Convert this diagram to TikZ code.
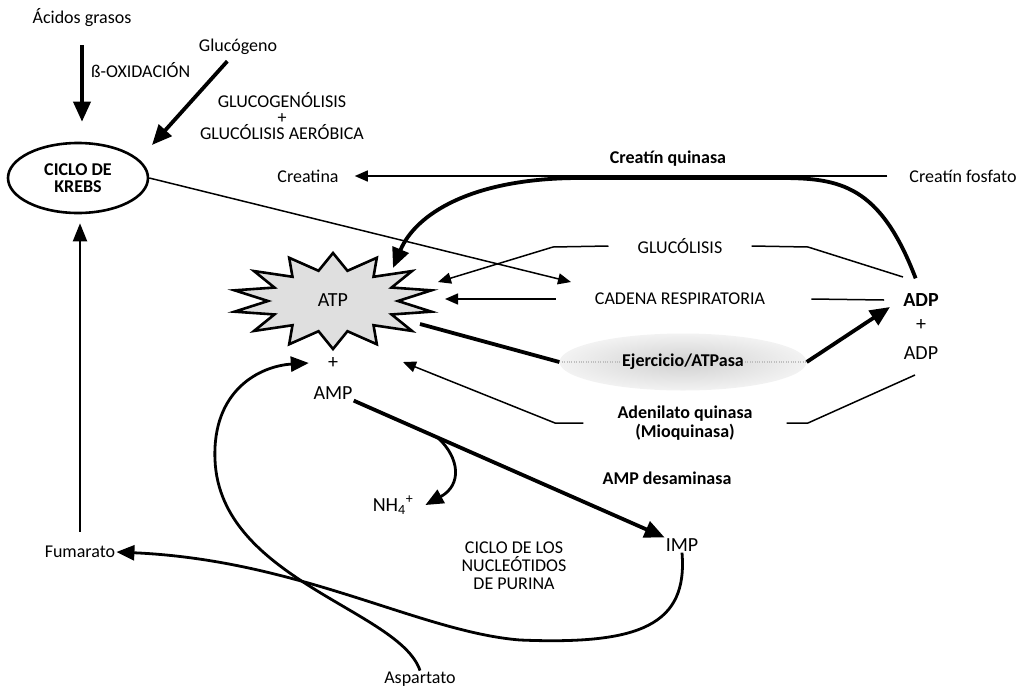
\documentclass[tikz,border=0pt]{standalone}
\usepackage{fontspec}
\setmainfont{Carlito}
\usepackage{tikz}
\usetikzlibrary{arrows.meta,shapes.geometric,positioning}

\tikzset{
  txt/.style={font=\fontsize{18}{17}\selectfont, inner sep=1pt, align=center},
  btxt/.style={txt, font=\fontsize{18}{19}\selectfont\bfseries},
  mol/.style={txt, font=\fontsize{20}{20}\selectfont},
  fineline/.style={line width=1.5pt},
  fineto/.style={fineline, -{Triangle[length=13pt,width=11pt]}},
  boldline/.style={line width=3.8pt},
  boldto/.style={boldline, -{Triangle[length=20pt,width=17pt]}},
  midto/.style={line width=2.8pt, -{Triangle[length=18pt,width=15pt]}},
  krebsbox/.style={ellipse, draw, line width=2.6pt, minimum width=140pt, minimum height=70pt,
    inner sep=0pt, align=center, font=\fontsize{18}{17}\selectfont\bfseries},
  exbox/.style={ellipse, minimum width=247pt, minimum height=57pt, inner color=gray!36, outer color=gray!10},
  starline/.style={line width=2.6pt, fill=gray!25, line join=miter},
  dotline/.style={gray!50, line width=1.2pt, dash pattern=on 0.8pt off 1.6pt},
}

\begin{document}
\begin{tikzpicture}[x=1pt,y=-1pt]
  \useasboundingbox (0,0) rectangle (1021,689);

  % sources of the Krebs cycle
  \node[txt] (acid) at (82,18) {Ácidos grasos};
  \node[txt, anchor=west] (box) at (90,70) {ß-OXIDACIÓN};
  \node[txt] (glu) at (238,47) {Glucógeno};
  \node[txt, font=\fontsize{18}{16}\selectfont] (gglyc) at (282,116) {GLUCOGENÓLISIS\\+\\GLUCÓLISIS AERÓBICA};
  \node[krebsbox] (krebs) at (78,178) {CICLO DE\\KREBS};

  % creatine
  \node[txt] (cr) at (308,176) {Creatina};
  \node[txt] (crp) at (963,176) {Creatín fosfato};
  \node[btxt] (ck) at (668,159) {Creatín quinasa};

  % the ATP star
  \begin{scope}[shift={(333,301)}]
    \draw[starline] (90:101 and 48)
      \foreach \k in {0,...,13}{ -- ({90+\k*360/14+360/28}:65 and 31) -- ({90+(\k+1)*360/14}:101 and 48)} -- cycle;
  \end{scope}
  \node[mol] (atp) at (333,300) {ATP};
  \node[mol] (pla) at (333,363) {+};
  \node[mol] (amp) at (333,393) {AMP};

  % middle column
  \node[txt] (gl) at (680,246) {GLUCÓLISIS};
  \node[txt] (cad) at (680,299) {CADENA RESPIRATORIA};
  \node[exbox] (ex) at (683,362) {};
  \node[btxt] (exl) at (ex) {Ejercicio/ATPasa};
  \node[btxt] (adk) at (685,423) {Adenilato quinasa\\(Mioquinasa)};

  \node[mol, font=\fontsize{20}{20}\selectfont\bfseries] (adpa) at (921,300) {ADP};
  \node[mol] (plr) at (921,325) {+};
  \node[mol] (adpb) at (921,353) {ADP};

  % purine nucleotide cycle
  \node[btxt] (ampd) at (667,478) {AMP desaminasa};
  \node[mol] (nh) at (393,505) {NH\textsubscript{4}\textsuperscript{+}};
  \node[mol] (imp) at (682,545) {IMP};
  \node[txt, font=\fontsize{18}{18}\selectfont] (cnp) at (514,566) {CICLO DE LOS\\NUCLEÓTIDOS\\DE PURINA};
  \node[txt] (fum) at (80,552) {Fumarato};
  \node[txt] (asp) at (420,679) {Aspartato};

  \coordinate (glutip) at (152,145);
  \coordinate (cadtip) at (571,282);
  \coordinate (atpck) at (393,268);
  \coordinate (atpgl) at (438,282);
  \coordinate (atpcr) at (445,299);
  \coordinate (atpex) at (420,324);
  \coordinate (atpak) at (403,362);
  \coordinate (glA) at (553,247);
  \coordinate (glB) at (808,247);
  \coordinate (akA) at (555,423);
  \coordinate (akB) at (808,423);
  \coordinate (adpgl) at (903,277);
  \coordinate (adpex) at (890,307);
  \coordinate (adpak) at (915,375);

  \draw[boldto, shorten <=17pt, shorten >=20pt] (acid.south) -- (acid.south |- krebs.north);
  \draw[boldto, shorten <=7pt] ([xshift=-6pt]glu.south) -- (glutip);
  \draw[fineto] (krebs.east) -- (cadtip);

  \draw[fineto, shorten <=21pt, shorten >=15pt] (crp.west) -- (cr.east);
  \draw[boldto, shorten <=15pt] (adpa.north) .. controls (880,185) and (840,178) .. (780,178)
    -- (580,178) .. controls (470,178) and (415,215) .. (atpck);

  \draw[fineto] ([xshift=-28pt]gl.west) -- (glA) -- (atpgl);
  \draw[fineline] ([xshift=28pt]gl.east) -- (glB) -- (adpgl);
  \draw[fineto] ([xshift=-38pt]cad.west) -- (atpcr);
  \draw[fineline] ([xshift=45pt]cad.east) -- ([xshift=-18pt]adpa.west);

  \draw[dotline] (ex.west) -- (exl.west) (exl.east) -- (ex.east);
  \draw[boldline] (atpex) -- (ex.west);
  \draw[boldto] (ex.east) -- (adpex);

  \draw[fineto] ([xshift=-33pt]adk.west) -- (akA) -- (atpak);
  \draw[fineline] ([xshift=33pt]adk.east) -- (akB) -- (adpak);

  \draw[boldto] (amp.south east) -- coordinate[pos=0.27] (nhsrc) (imp.north west);
  \draw[midto] (nhsrc) .. controls (460,458) and (462,485) .. ([xshift=11pt]nh.east);

  \draw[midto] (imp.south) .. controls (688,625) and (640,645) .. (520,640)
    .. controls (420,632) and (300,560) .. (fum.east);
  \draw[midto] (asp.north) .. controls (400,610) and (220,580) .. (215,460)
    .. controls (212,390) and (260,366) .. ([xshift=-18pt]pla.west);
  \draw[line width=2pt, -{Triangle[length=18pt,width=14pt]}, shorten <=13pt, shorten >=9pt]
    (fum.north) -- (fum.north |- krebs.south);
\end{tikzpicture}
\end{document}
